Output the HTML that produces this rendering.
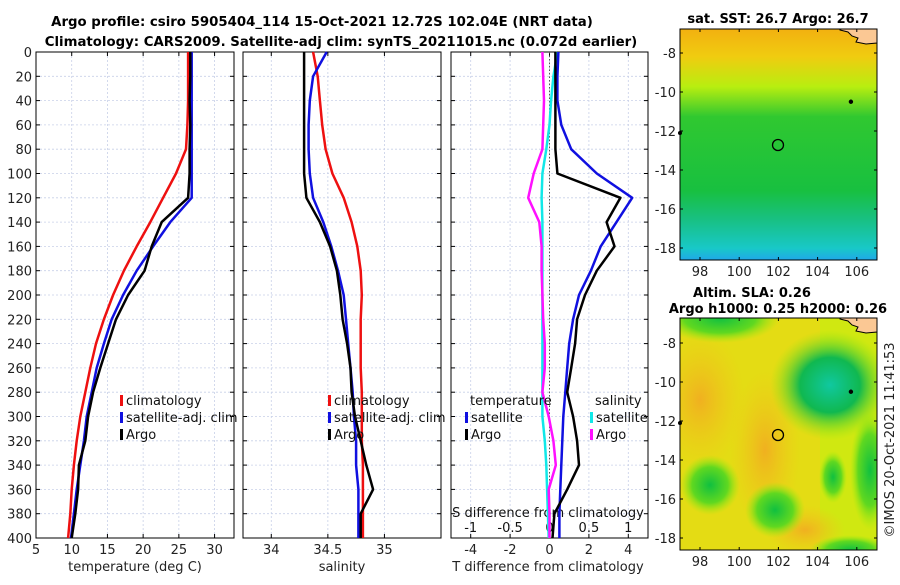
<!DOCTYPE html>
<html><head><meta charset="utf-8"><style>
body{margin:0;background:#fff;width:900px;height:580px;overflow:hidden;font-family:"Liberation Sans","DejaVu Sans",sans-serif}
svg text{font-family:"DejaVu Sans","Liberation Sans",sans-serif}
</style></head><body>
<svg id="fig" width="900" height="580" viewBox="0 0 900 580" xmlns="http://www.w3.org/2000/svg">
<defs>
<linearGradient id="sstg" x1="0" y1="0" x2="0" y2="1">
<stop offset="0" stop-color="#f2b010"/><stop offset="0.12" stop-color="#f0cc10"/><stop offset="0.25" stop-color="#b8ee10"/><stop offset="0.38" stop-color="#30c830"/><stop offset="0.7" stop-color="#18c040"/><stop offset="0.82" stop-color="#18c080"/><stop offset="0.95" stop-color="#18c8c8"/><stop offset="1" stop-color="#20a8e8"/>
</linearGradient>
<radialGradient id="eddy" cx="0.5" cy="0.5" r="0.5"><stop offset="0" stop-color="#10c8a0"/><stop offset="0.5" stop-color="#10b850"/><stop offset="1" stop-color="#90e810" stop-opacity="0"/></radialGradient>
<radialGradient id="blob" cx="0.5" cy="0.5" r="0.5"><stop offset="0" stop-color="#10c040"/><stop offset="0.6" stop-color="#60d820"/><stop offset="1" stop-color="#a0ec10" stop-opacity="0"/></radialGradient>
<radialGradient id="warm" cx="0.5" cy="0.5" r="0.5"><stop offset="0" stop-color="#f0b020"/><stop offset="1" stop-color="#f0c818" stop-opacity="0"/></radialGradient>
<clipPath id="m2c"><rect x="680" y="318" width="197" height="232"/></clipPath>
</defs>
<text x="322" y="26" text-anchor="middle" font-weight="bold" font-size="13.3">Argo profile: csiro 5905404_114 15-Oct-2021 12.72S 102.04E (NRT data)</text>
<text x="341" y="46" text-anchor="middle" font-weight="bold" font-size="13.3">Climatology: CARS2009. Satellite-adj clim: synTS_20211015.nc (0.072d earlier)</text>
<g id="p1"></g>
<g id="p2"></g>
<g id="p3"></g>

<g>
<text x="778" y="23" text-anchor="middle" font-weight="bold" font-size="13">sat. SST: 26.7 Argo: 26.7</text>
<rect x="680" y="29" width="197" height="231" fill="url(#sstg)"/>
<path d="M840 30 L848 32 L852 36 L858 38 L856 42 L866 44 L877 43 L877 29 L840 29Z" fill="#fbc894" stroke="#000"/>
<circle cx="778" cy="145" r="5.5" fill="none" stroke="#000" stroke-width="1.3"/>
<rect x="680" y="29" width="197" height="231" fill="none" stroke="#000"/>
</g>
<g>
<text x="752" y="297" text-anchor="middle" font-weight="bold" font-size="13">Altim. SLA: 0.26</text>
<text x="778" y="313" text-anchor="middle" font-weight="bold" font-size="13">Argo h1000: 0.25 h2000: 0.26</text>
<g clip-path="url(#m2c)">
<rect x="680" y="318" width="197" height="232" fill="#e4dc14"/>
<rect x="820" y="318" width="57" height="232" fill="#c8ec10" opacity="0.7"/>
<ellipse cx="700" cy="400" rx="45" ry="70" fill="url(#warm)"/>
<ellipse cx="765" cy="450" rx="35" ry="80" fill="url(#warm)"/>
<ellipse cx="805" cy="530" rx="40" ry="25" fill="url(#warm)"/>
<ellipse cx="830" cy="385" rx="60" ry="55" fill="url(#eddy)"/>
<ellipse cx="720" cy="318" rx="60" ry="25" fill="url(#blob)"/>
<ellipse cx="710" cy="485" rx="30" ry="30" fill="url(#blob)"/>
<ellipse cx="775" cy="510" rx="30" ry="28" fill="url(#blob)"/>
<ellipse cx="833" cy="477" rx="14" ry="26" fill="url(#blob)"/>
<ellipse cx="850" cy="550" rx="40" ry="15" fill="url(#blob)"/>
<ellipse cx="870" cy="470" rx="20" ry="60" fill="url(#blob)"/>
</g>
<path d="M840 319 L848 321 L852 325 L858 327 L856 331 L866 333 L877 332 L877 318 L840 318Z" fill="#fbc894" stroke="#000"/>
<circle cx="778" cy="435" r="5.5" fill="none" stroke="#000" stroke-width="1.3"/>
<rect x="680" y="318" width="197" height="232" fill="none" stroke="#000"/>
</g>
<g id="maxes"></g>
<text transform="translate(894,440) rotate(-90)" text-anchor="middle" font-size="13" fill="#222">©IMOS 20-Oct-2021 11:41:53</text>
</svg>
<script>
const depths=[0,20,40,60,80,100,120,140,160,180,200,220,240,260,280,300,320,340,360,380,400];
const tempClim=[26.3,26.3,26.3,26.2,26.0,24.6,22.8,21.0,19.1,17.3,15.8,14.5,13.4,12.6,11.9,11.2,10.7,10.3,10.0,9.8,9.5];
const tempSat=[26.8,26.8,26.8,26.8,26.8,26.8,26.8,23.8,21.4,19.1,17.2,15.6,14.5,13.5,12.8,12.1,11.7,11.2,10.7,10.3,9.9];
const tempArgo=[26.6,26.6,26.5,26.6,26.5,26.5,26.3,22.6,21.2,20.2,17.9,16.2,15.1,14.0,13.0,12.3,11.9,11.0,10.9,10.5,10.0];
const salClim=[34.37,34.41,34.43,34.45,34.48,34.54,34.64,34.71,34.76,34.79,34.80,34.79,34.79,34.79,34.80,34.80,34.80,34.81,34.81,34.81,34.81];
const salSat=[34.49,34.37,34.34,34.33,34.33,34.34,34.37,34.46,34.53,34.59,34.64,34.66,34.68,34.70,34.72,34.73,34.75,34.75,34.77,34.77,34.77];
const salArgo=[34.29,34.29,34.29,34.29,34.29,34.29,34.31,34.43,34.52,34.58,34.61,34.63,34.67,34.70,34.71,34.74,34.79,34.84,34.90,34.79,34.79];
const tDiffSat=[0.45,0.4,0.4,0.6,1.1,2.4,4.2,3.4,2.6,2.1,1.5,1.2,1.0,0.9,0.8,0.7,0.65,0.6,0.55,0.5,0.5];
const tDiffArgo=[0.3,0.3,0.3,0.3,0.3,0.4,3.6,2.9,3.3,2.4,1.8,1.4,1.3,1.1,0.9,1.2,1.4,1.5,0.9,0.25,0.15];
const sDiffSat=[0.1,0.05,0.02,0.0,-0.04,-0.09,-0.1,-0.09,-0.09,-0.09,-0.09,-0.09,-0.09,-0.09,-0.09,-0.09,-0.06,-0.04,-0.03,-0.02,-0.01];
const sDiffArgo=[-0.09,-0.08,-0.07,-0.08,-0.09,-0.2,-0.27,-0.13,-0.1,-0.1,-0.09,-0.08,-0.06,-0.06,-0.09,-0.01,0.05,0.08,-0.01,0.0,0.0];
const depthTicks=[0,20,40,60,80,100,120,140,160,180,200,220,240,260,280,300,320,340,360,380,400];
const tempTicks=[5,10,15,20,25,30];
const salTicks=[34,34.5,35];
const tDiffTicks=[-4,-2,0,2,4];
const sDiffTicks=[-1,-0.5,0,0.5,1];
const lonTicks=[98,100,102,104,106];
const latTicks=[-8,-10,-12,-14,-16,-18];

const NS='http://www.w3.org/2000/svg';
function mk(tag,attrs,parent){const e=document.createElementNS(NS,tag);for(const k in attrs)e.setAttribute(k,attrs[k]);parent.appendChild(e);return e;}
const Y0=52,Y1=538;
const yScale=d=>Y0+(d/400)*(Y1-Y0);
function panel(g,x0,x1,dmin,dmax){
  const xs=v=>x0+(v-dmin)/(dmax-dmin)*(x1-x0);
  return xs;
}
function gridAndFrame(g,x0,x1,xs,ticks,labels,showY){
  depthTicks.forEach(d=>{const y=yScale(d);
    const l=mk('line',{x1:x0,x2:x1,y1:y,y2:y,stroke:'#c8d0e8','stroke-dasharray':'2,2','stroke-width':0.8},g);
    
    mk('line',{x1:x0,x2:x0+4,y1:y,y2:y,stroke:'#000'},g);mk('line',{x1:x1-4,x2:x1,y1:y,y2:y,stroke:'#000'},g);
    if(showY){const t=mk('text',{x:x0-4,y:y+5,'text-anchor':'end','font-size':13,fill:'#222'},g);t.textContent=d;
      }
  });
  ticks.forEach((v,i)=>{const x=xs(v);
    mk('line',{x1:x,x2:x,y1:Y0,y2:Y1,stroke:'#c8d0e8','stroke-dasharray':'2,2','stroke-width':0.8},g);
    mk('line',{x1:x,x2:x,y1:Y1,y2:Y1-4,stroke:'#000'},g);mk('line',{x1:x,x2:x,y1:Y0,y2:Y0+4,stroke:'#000'},g);
    const t=mk('text',{x:x,y:Y1+16,'text-anchor':'middle','font-size':13,fill:'#222'},g);t.textContent=labels[i];
    
  });
  mk('rect',{x:x0,y:Y0,width:x1-x0,height:Y1-Y0,fill:'none',stroke:'#000'},g);
}
function line(g,xs,vals,color,name,w){
  const d=vals.map((v,i)=>(i?'L':'M')+xs(v).toFixed(1)+' '+yScale(depths[i]).toFixed(1)).join(' ');
  const p=mk('path',{d:d,fill:'none',stroke:color,'stroke-width':w||2.5,'stroke-linejoin':'round'},g);
  
}
function legend(g,x,y,color,label){
  mk('rect',{x:x,y:y-10,width:3,height:11,fill:color},g);
  const t=mk('text',{x:x+6,y:y,'font-size':13,fill:'#111'},g);t.textContent=label;
  
}
function axTitle(g,x,y,s){const t=mk('text',{x:x,y:y,'text-anchor':'middle','font-size':13,fill:'#222'},g);t.textContent=s;
  }

// panel 1
{const g=document.getElementById('p1');const x0=36,x1=234;const xs=panel(g,x0,x1,5,32.72);
 gridAndFrame(g,x0,x1,xs,tempTicks,tempTicks.map(String),true);
 line(g,xs,tempClim,'#ee1010','temp-climatology-line');line(g,xs,tempSat,'#1010e0','temp-satellite-line');line(g,xs,tempArgo,'#000','temp-argo-line');
 legend(g,120,405,'#ee1010','climatology');legend(g,120,422,'#1010e0','satellite-adj. clim');legend(g,120,439,'#000','Argo');
 axTitle(g,135,571,'temperature (deg C)');}
// panel 2
{const g=document.getElementById('p2');const x0=243,x1=441;const xs=panel(g,x0,x1,33.75,35.5);
 gridAndFrame(g,x0,x1,xs,salTicks,['34','34.5','35'],false);
 line(g,xs,salClim,'#ee1010','sal-climatology-line');line(g,xs,salSat,'#1010e0','sal-satellite-line');line(g,xs,salArgo,'#000','sal-argo-line');
 legend(g,328,405,'#ee1010','climatology');legend(g,328,422,'#1010e0','satellite-adj. clim');legend(g,328,439,'#000','Argo');
 axTitle(g,342,571,'salinity');}
// panel 3
{const g=document.getElementById('p3');const x0=451,x1=648;const xs=panel(g,x0,x1,-5,5);const ss=panel(g,x0,x1,-1.25,1.25);
 gridAndFrame(g,x0,x1,xs,tDiffTicks,tDiffTicks.map(String),false);
 const z=xs(0);mk('line',{x1:z,x2:z,y1:Y0,y2:Y1,stroke:'#555','stroke-dasharray':'1.5,2'},g);
 sDiffTicks.forEach(v=>{const t=mk('text',{x:ss(v),y:532,'text-anchor':'middle','font-size':13,fill:'#111'},g);t.textContent=String(v);
   });
 const st=mk('text',{x:548,y:517,'text-anchor':'middle','font-size':13,fill:'#111'},g);st.textContent='S difference from climatology';
 
 line(g,ss,sDiffSat,'#10e8e8','sdiff-satellite-line');line(g,ss,sDiffArgo,'#ff10ff','sdiff-argo-line');
 line(g,xs,tDiffSat,'#1010e0','tdiff-satellite-line');line(g,xs,tDiffArgo,'#000','tdiff-argo-line');
 const t1=mk('text',{x:470,y:405,'font-size':13,fill:'#111'},g);t1.textContent='temperature';
 
 const t2=mk('text',{x:595,y:405,'font-size':13,fill:'#111'},g);t2.textContent='salinity';
 
 legend(g,465,422,'#1010e0','satellite');legend(g,465,439,'#000','Argo');
 legend(g,590,422,'#10e8e8','satellite');legend(g,590,439,'#ff10ff','Argo');
 axTitle(g,548,571,'T difference from climatology');}
// map axes
{const g=document.getElementById('maxes');
 const lx=v=>700+(v-98)*19.6;
 [[29,260,53,19.5],[318,550,343,19.5]].forEach(m=>{
   lonTicks.forEach(v=>{const x=lx(v);mk('line',{x1:x,x2:x,y1:m[1],y2:m[1]-3,stroke:'#000'},g);mk('line',{x1:x,x2:x,y1:m[0],y2:m[0]+3,stroke:'#000'},g);
     const t=mk('text',{x:x,y:m[1]+16,'text-anchor':'middle','font-size':13,fill:'#222'},g);t.textContent=v;
     });
   latTicks.forEach(v=>{const y=m[2]+(-8-v)*m[3];mk('line',{x1:680,x2:683,y1:y,y2:y,stroke:'#000'},g);mk('line',{x1:877,x2:874,y1:y,y2:y,stroke:'#000'},g);
     const t=mk('text',{x:676,y:y+5,'text-anchor':'end','font-size':13,fill:'#222'},g);t.textContent=v;
     });
   mk('circle',{cx:lx(105.7),cy:m[2]+2.5*m[3],r:2.2,fill:'#000'},g);mk('circle',{cx:680,cy:m[2]+4.1*m[3],r:2,fill:'#000'},g);
 });}
</script>
</body></html>
